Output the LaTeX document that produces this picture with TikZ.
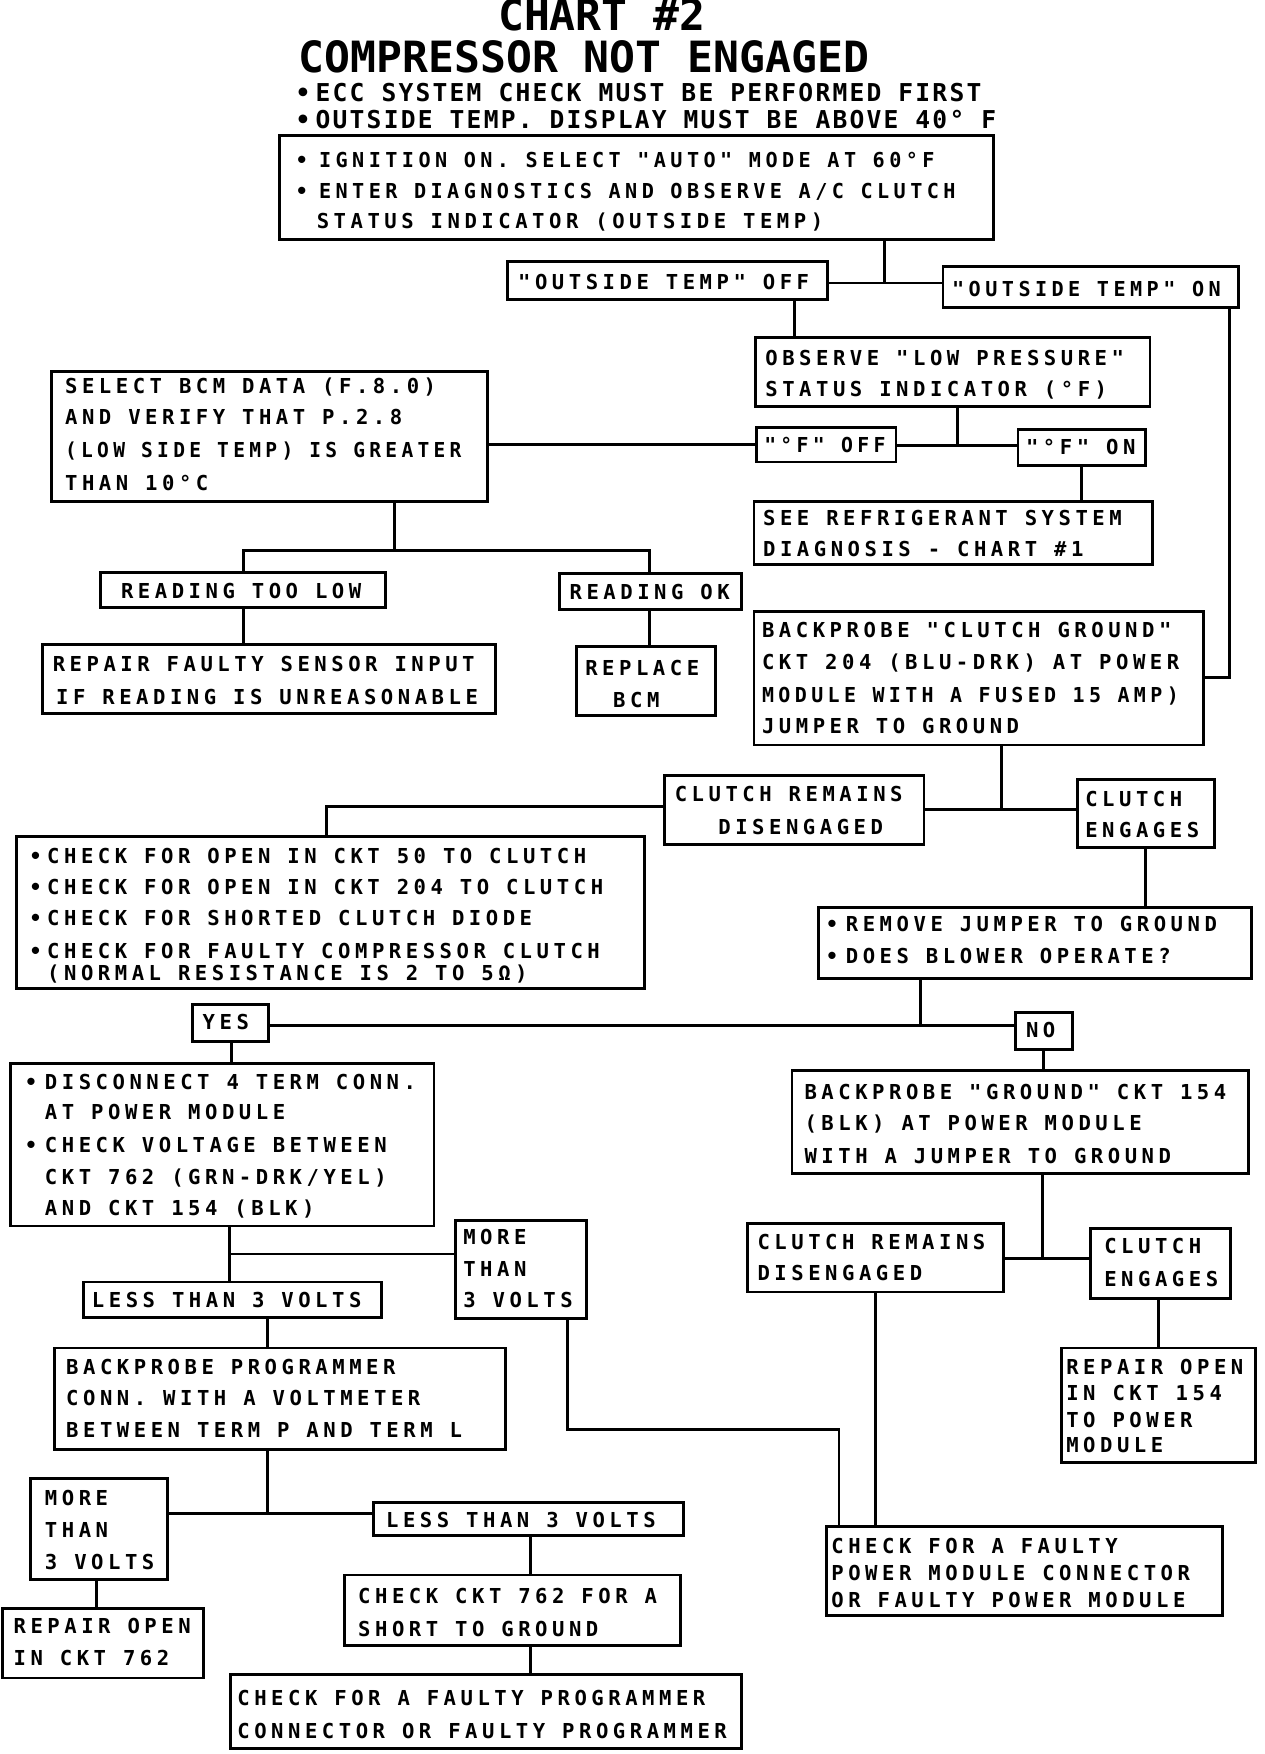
\documentclass[tikz,border=0pt]{standalone}
\usepackage{fontspec}
\usepackage{graphicx}
\newfontfamily\bxfont[LetterSpace=22]{DejaVu Sans Mono}
\newfontfamily\hdfont[LetterSpace=9]{DejaVu Sans Mono}
\newfontfamily\ttlfont[LetterSpace=0]{DejaVu Sans Mono}
\newcounter{tl}
\tikzset{
  box/.style={draw, line width=2.6pt, inner sep=0pt, rectangle},
  conn/.style={line width=2.6pt},
  tx/.style={anchor=base west, inner sep=0pt, text height=14pt, text depth=4pt, font=\bxfont\bfseries\fontsize{18.4}{22}\selectfont},
  hd/.style={anchor=base west, inner sep=0pt, text height=16pt, text depth=4pt, font=\hdfont\bfseries\fontsize{22}{24}\selectfont},
  ttl/.style={anchor=base, inner sep=0pt, text height=28pt, text depth=0pt, font=\ttlfont\bfseries\fontsize{38.5}{42}\selectfont},
}
\newcommand\tx[4][1]{\stepcounter{tl}\node[tx] (t\arabic{tl}) at (#2,{#3+6.7}) {\scalebox{#1}[1]{#4}};}
\newcommand\bx[5]{\node[box, minimum width={#4-#2}, minimum height={#5-#3}] (#1) at ({(#2+#4)/2},{(#3+#5)/2}) {};}
\begin{document}
\begin{tikzpicture}[x=1pt,y=-1pt]
\fill[white] (0,0) rectangle (1130,1568);
\useasboundingbox (0,0) rectangle (1130,1568);
% title
\node[ttl] (title1) at (538,27.5) {CHART \#2};
\node[ttl] (title2) at (522,64.5) {COMPRESSOR NOT ENGAGED};
\node[hd] (h1b) at (264,91) {•};
\node[hd] (h1) at (282,91) {ECC SYSTEM CHECK MUST BE PERFORMED FIRST};
\node[hd] (h2b) at (264,115) {•};
\node[hd] (h2) at (282,115) {OUTSIDE TEMP. DISPLAY MUST BE ABOVE 40° F};
% boxes
\bx{box1}{250}{121}{888}{214}
\bx{tOff}{454}{234}{740}{268}
\bx{tOn}{843}{238}{1107}{275}
\bx{obs}{675}{302}{1028}{363}
\bx{fOff}{676}{382}{801}{413}
\bx{fOn}{910}{384}{1024}{416}
\bx{see}{674}{448}{1030}{505}
\bx{select}{46}{332}{436}{448}
\bx{rtl}{90}{512}{345}{543}
\bx{rok}{500}{513}{663}{545}
\bx{rfs}{38}{576}{443}{638}
\bx{rep}{515}{578}{640}{640}
\bx{bpc}{674}{547}{1076}{666}
\bx{crem}{594}{693}{826}{755}
\bx{ceng}{963}{697}{1086}{758}
\bx{check}{15}{748}{576}{884}
\bx{remove}{732}{811}{1119}{875}
\bx{yes}{172}{898}{240}{931}
\bx{no}{908}{905}{959}{938}
\bx{bpg}{708}{957}{1116}{1049}
\bx{disc}{9}{951}{388}{1096}
\bx{more1}{407}{1091}{524}{1179}
\bx{less1}{75}{1146}{341}{1178}
\bx{bpp}{49}{1205}{452}{1296}
\bx{more2}{27}{1322}{150}{1412}
\bx{less2}{334}{1343}{611}{1373}
\bx{rep762}{2}{1438}{182}{1500}
\bx{chk762}{308}{1408}{608}{1471}
\bx{cprog}{206}{1497}{663}{1563}
\bx{crem2}{668}{1094}{897}{1155}
\bx{ceng2}{975}{1098}{1100}{1161}
\bx{rep154}{949}{1205}{1122}{1307}
\bx{cfp}{739}{1365}{1093}{1444}
% texts
\tx{264}{143}{•}\tx[0.98]{285}{143}{IGNITION ON. SELECT "AUTO" MODE AT 60°F}
\tx{264}{171}{•}\tx[0.98]{285}{171}{ENTER DIAGNOSTICS AND OBSERVE A/C CLUTCH}
\tx{283}{198}{STATUS INDICATOR (OUTSIDE TEMP)}
\tx{463}{252}{"OUTSIDE TEMP" OFF}
\tx[0.98]{851}{258}{"OUTSIDE TEMP" ON}
\tx{684}{320}{OBSERVE "LOW PRESSURE"}
\tx{684}{348}{STATUS INDICATOR (°F)}
\tx[0.96]{683}{398}{"°F" OFF}
\tx{917}{400}{"°F" ON}
\tx{682}{463}{SEE REFRIGERANT SYSTEM}
\tx{682}{491}{DIAGNOSIS - CHART \#1}
\tx{58}{345}{SELECT BCM DATA (F.8.0)}
\tx{58}{373}{AND VERIFY THAT P.2.8}
\tx[0.95]{58}{402}{(LOW SIDE TEMP) IS GREATER}
\tx{58}{432}{THAN 10°C}
\tx{108}{528}{READING TOO LOW}
\tx{509}{529}{READING OK}
\tx{47}{594}{REPAIR FAULTY SENSOR INPUT}
\tx{50}{623}{IF READING IS UNREASONABLE}
\tx{523}{597}{REPLACE}
\tx{548}{626}{BCM}
\tx{681}{563}{BACKPROBE "CLUTCH GROUND"}
\tx{681}{592}{CKT 204 (BLU-DRK) AT POWER}
\tx[0.97]{681}{621}{MODULE WITH A FUSED 15 AMP)}
\tx{681}{649}{JUMPER TO GROUND}
\tx{603}{710}{CLUTCH REMAINS}
\tx{642}{739}{DISENGAGED}
\tx{970}{714}{CLUTCH}
\tx{970}{742}{ENGAGES}
\tx{26}{765}{•}\tx{42}{765}{CHECK FOR OPEN IN CKT 50 TO CLUTCH}
\tx{26}{793}{•}\tx{42}{793}{CHECK FOR OPEN IN CKT 204 TO CLUTCH}
\tx{26}{821}{•}\tx{42}{821}{CHECK FOR SHORTED CLUTCH DIODE}
\tx{26}{850}{•}\tx{42}{850}{CHECK FOR FAULTY COMPRESSOR CLUTCH}
\tx{42}{870}{(NORMAL RESISTANCE IS 2 TO 5Ω)}
\tx{738}{826}{•}\tx{756}{826}{REMOVE JUMPER TO GROUND}
\tx{738}{855}{•}\tx{756}{855}{DOES BLOWER OPERATE?}
\tx{181}{914}{YES}
\tx{917}{921}{NO}
\tx{719}{976}{BACKPROBE "GROUND" CKT 154}
\tx{719}{1004}{(BLK) AT POWER MODULE}
\tx{719}{1033}{WITH A JUMPER TO GROUND}
\tx{22}{967}{•}\tx{40}{967}{DISCONNECT 4 TERM CONN.}
\tx{40}{994}{AT POWER MODULE}
\tx{22}{1024}{•}\tx{40}{1024}{CHECK VOLTAGE BETWEEN}
\tx{40}{1052}{CKT 762 (GRN-DRK/YEL)}
\tx{40}{1080}{AND CKT 154 (BLK)}
\tx{414}{1106}{MORE}
\tx{414}{1134}{THAN}
\tx{414}{1162}{3 VOLTS}
\tx{82}{1162}{LESS THAN 3 VOLTS}
\tx{59}{1222}{BACKPROBE PROGRAMMER}
\tx{59}{1250}{CONN. WITH A VOLTMETER}
\tx{59}{1278}{BETWEEN TERM P AND TERM L}
\tx{40}{1339}{MORE}
\tx{40}{1368}{THAN}
\tx{40}{1396}{3 VOLTS}
\tx{345}{1359}{LESS THAN 3 VOLTS}
\tx{12}{1454}{REPAIR OPEN}
\tx{12}{1482}{IN CKT 762}
\tx{320}{1427}{CHECK CKT 762 FOR A}
\tx{320}{1456}{SHORT TO GROUND}
\tx{212}{1518}{CHECK FOR A FAULTY PROGRAMMER}
\tx{212}{1547}{CONNECTOR OR FAULTY PROGRAMMER}
\tx{677}{1110}{CLUTCH REMAINS}
\tx{677}{1138}{DISENGAGED}
\tx{987}{1114}{CLUTCH}
\tx{987}{1143}{ENGAGES}
\tx{953}{1222}{REPAIR OPEN}
\tx{953}{1245}{IN CKT 154}
\tx{953}{1269}{TO POWER}
\tx{953}{1292}{MODULE}
\tx{743}{1382}{CHECK FOR A FAULTY}
\tx{743}{1406}{POWER MODULE CONNECTOR}
\tx{743}{1430}{OR FAULTY POWER MODULE}
% connectors
\coordinate (j1) at (791,253);
\draw[conn] (box1.south -| j1) -- (j1);
\draw[conn] (tOff.east |- j1) -- (tOn.west |- j1);
\coordinate (c1) at (710,0);
\draw[conn] (tOff.south -| c1) -- (obs.north -| c1);
\coordinate (c2) at (1099,606);
\draw[conn] (tOn.south -| c2) -- (c2) -- (bpc.east |- c2);
\coordinate (j2) at (856,398);
\draw[conn] (obs.south -| j2) -- (j2);
\draw[conn] (fOff.east |- j2) -- (fOn.west |- j2);
\draw[conn] (fOff.west) -- (select.east |- fOff.west);
\coordinate (c3) at (967,0);
\draw[conn] (fOn.south -| c3) -- (see.north -| c3);
\coordinate (j3) at (353,492);
\draw[conn] (select.south -| j3) -- (j3);
\coordinate (c4a) at (218,492);
\coordinate (c4b) at (581,492);
\draw[conn] (rtl.north -| c4a) -- (c4a) -- (c4b) -- (rok.north -| c4b);
\draw[conn] (rtl.south -| c4a) -- (rfs.north -| c4a);
\draw[conn] (rok.south -| c4b) -- (rep.north -| c4b);
\coordinate (j4) at (895,724);
\draw[conn] (bpc.south -| j4) -- (j4);
\draw[conn] (crem.east |- j4) -- (ceng.west |- j4);
\coordinate (c5) at (292,721);
\draw[conn] (crem.west |- c5) -- (c5) -- (check.north -| c5);
\coordinate (c6) at (1024,0);
\draw[conn] (ceng.south -| c6) -- (remove.north -| c6);
\coordinate (j6) at (823,917);
\draw[conn] (remove.south -| j6) -- (j6);
\draw[conn] (yes.east |- j6) -- (no.west |- j6);
\coordinate (c7) at (207,0);
\draw[conn] (yes.south -| c7) -- (disc.north -| c7);
\coordinate (c8) at (933,0);
\draw[conn] (no.south -| c8) -- (bpg.north -| c8);
\coordinate (j7) at (205,1121);
\draw[conn] (disc.south -| j7) -- (less1.north -| j7);
\draw[conn] (j7) -- (more1.west |- j7);
\coordinate (c9a) at (507,1278);
\coordinate (c9b) at (750,1278);
\draw[conn] (more1.south -| c9a) -- (c9a) -- (c9b) -- (cfp.north -| c9b);
\coordinate (c10) at (239,0);
\draw[conn] (less1.south -| c10) -- (bpp.north -| c10);
\coordinate (j8) at (239,1353);
\draw[conn] (bpp.south -| j8) -- (j8);
\draw[conn] (more2.east |- j8) -- (less2.west |- j8);
\coordinate (c11) at (86,0);
\draw[conn] (more2.south -| c11) -- (rep762.north -| c11);
\coordinate (c12) at (474,0);
\draw[conn] (less2.south -| c12) -- (chk762.north -| c12);
\draw[conn] (chk762.south -| c12) -- (cprog.north -| c12);
\coordinate (j9) at (932,1125);
\draw[conn] (bpg.south -| j9) -- (j9);
\draw[conn] (crem2.east |- j9) -- (ceng2.west |- j9);
\coordinate (c13) at (1036,0);
\draw[conn] (ceng2.south -| c13) -- (rep154.north -| c13);
\coordinate (c14) at (783,0);
\draw[conn] (crem2.south -| c14) -- (cfp.north -| c14);
\end{tikzpicture}
\end{document}
